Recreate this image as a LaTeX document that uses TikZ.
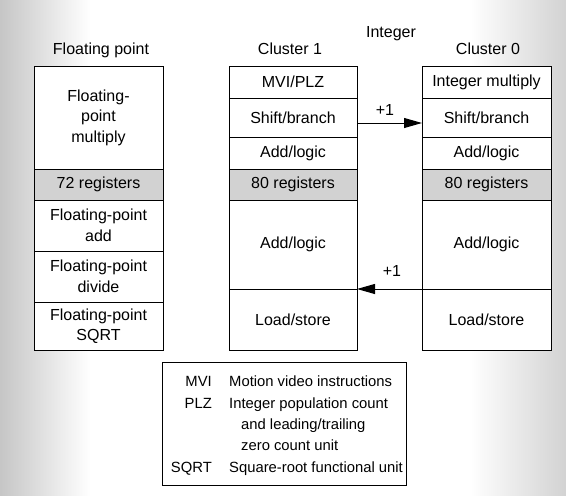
\documentclass[tikz,border=0pt]{standalone}
\usepackage{fontspec}
\setmainfont{Liberation Sans}
\usetikzlibrary{arrows.meta}
\begin{document}
\begin{tikzpicture}[x=1pt,y=-1pt,
  cell/.style={draw=black, line width=1pt, fill=white, inner sep=0pt, outer sep=0pt,
    align=center, font=\fontsize{16}{20.5}\selectfont},
  reg/.style={cell, fill=gray!35},
  coltitle/.style={font=\fontsize{16}{19}\selectfont, anchor=base, inner sep=0pt},
  legtxt/.style={font=\fontsize{14.8}{17}\selectfont, inner sep=0pt},
  link/.style={line width=1pt, -{Triangle[length=18pt,width=10pt]}},
  plus/.style={font=\fontsize{16}{19}\selectfont, inner sep=0pt},
]
\useasboundingbox (0,0) rectangle (566,496);
\shade[left color=gray!45, right color=white] (0,0) rectangle (90,496);
\shade[left color=white, right color=gray!35] (470,0) rectangle (566,496);

% titles
\node[coltitle] (tfp) at (101,54) {Floating point};
\node[coltitle] (tint) at (391,37) {Integer};
\node[coltitle] (tc1) at (290,54) {Cluster 1};
\node[coltitle] (tc0) at (488,54) {Cluster 0};

% floating point column
\node[cell, minimum width=129, minimum height=103] (fpmul) at (98.5,117.5) {Floating-\\point\\multiply};
\node[reg,  minimum width=129, minimum height=31]  (fpreg) at (98.5,184.5) {72 registers};
\node[cell, minimum width=129, minimum height=51]  (fpadd) at (98.5,225.5) {Floating-point\\add};
\node[cell, minimum width=129, minimum height=51]  (fpdiv) at (98.5,276.5) {Floating-point\\divide};
\node[cell, minimum width=129, minimum height=48]  (fpsqrt) at (98.5,326) {Floating-point\\SQRT};

% cluster 1
\node[cell, minimum width=128, minimum height=32] (c1mvi)   at (293,82)    {MVI/PLZ};
\node[cell, minimum width=128, minimum height=39] (c1shift) at (293,117.5) {Shift/branch};
\node[cell, minimum width=128, minimum height=32] (c1add)   at (293,153)   {Add/logic};
\node[reg,  minimum width=128, minimum height=31] (c1reg)   at (293,184.5) {80 registers};
\node[cell, minimum width=128, minimum height=89] (c1add2)  at (293,244.5) {Add/logic};
\node[cell, minimum width=128, minimum height=61] (c1ls)    at (293,319.5) {Load/store};

% cluster 0
\node[cell, minimum width=129, minimum height=32] (c0mul)   at (486.5,82)    {Integer multiply};
\node[cell, minimum width=129, minimum height=39] (c0shift) at (486.5,117.5) {Shift/branch};
\node[cell, minimum width=129, minimum height=32] (c0add)   at (486.5,153)   {Add/logic};
\node[reg,  minimum width=129, minimum height=31] (c0reg)   at (486.5,184.5) {80 registers};
\node[cell, minimum width=129, minimum height=89] (c0add2)  at (486.5,244.5) {Add/logic};
\node[cell, minimum width=129, minimum height=61] (c0ls)    at (486.5,319.5) {Load/store};

% connectors
\draw[link] ([yshift=-5.5pt]c1shift.east) -- ([yshift=-5.5pt]c0shift.west);
\node[plus] (p1) at (385,110) {+1};
\draw[link] (c0ls.north west) -- (c1ls.north east);
\node[plus] (p2) at (392,271) {+1};

% legend
\node[draw, line width=1pt, fill=white, minimum width=244, minimum height=123, inner sep=0pt] (legend) at (284,423.5) {};
\node[legtxt, anchor=base east] (lmvi)  at (212,386) {MVI};
\node[legtxt, anchor=base east] (lplz)  at (212,408) {PLZ};
\node[legtxt, anchor=base east] (lsqrt) at (212,472) {SQRT};
\node[legtxt, anchor=base west] (dmvi)  at (229,386) {Motion video instructions};
\node[legtxt, anchor=base west] (dplz1) at (229,408) {Integer population count};
\node[legtxt, anchor=base west] (dplz2) at (241,429) {and leading/trailing};
\node[legtxt, anchor=base west] (dplz3) at (241,450) {zero count unit};
\node[legtxt, anchor=base west] (dsqrt) at (229,472) {Square-root functional unit};
\end{tikzpicture}
\end{document}
